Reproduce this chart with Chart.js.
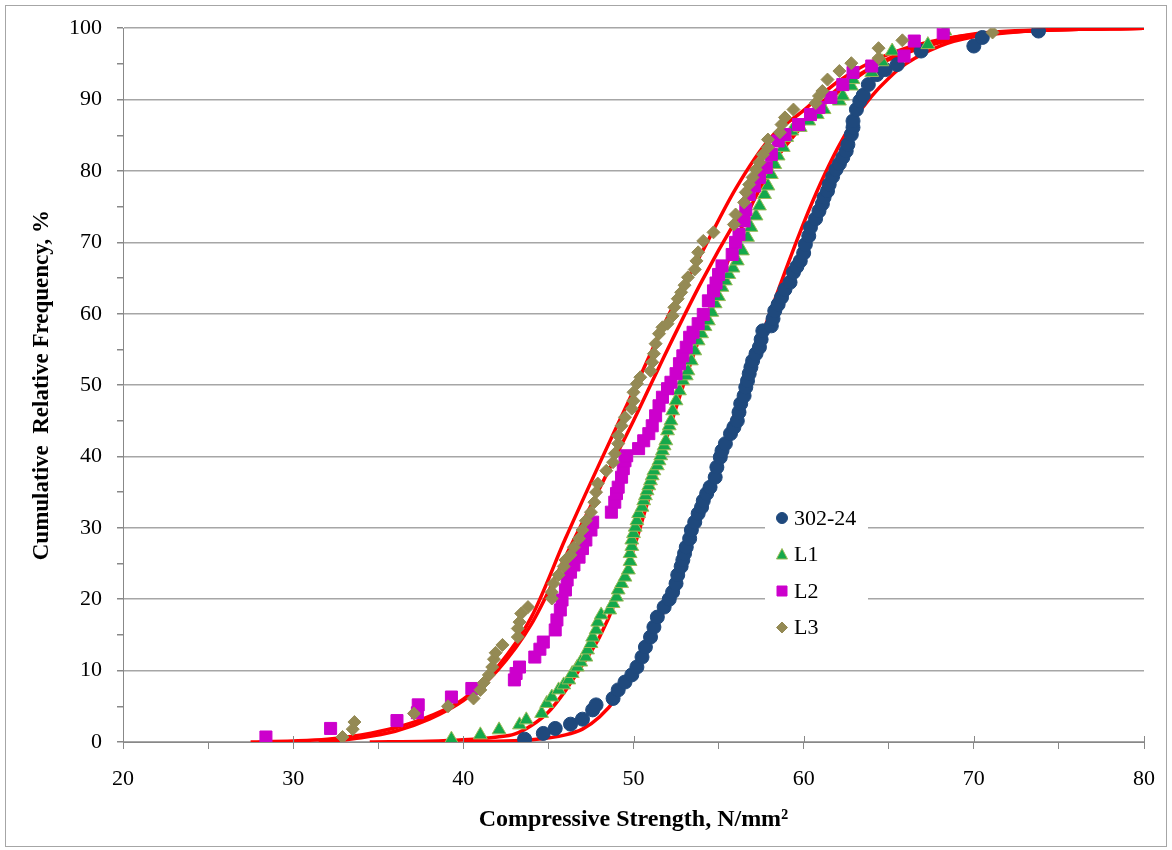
<!DOCTYPE html>
<html>
<head>
<meta charset="utf-8">
<script src="https://cdn.jsdelivr.net/npm/chart.js@4/dist/chart.umd.min.js"></script>
<style>
  body { margin: 0; background: #fff; }
  #wrap { position: relative; width: 1172px; height: 850px; }
  #frame { position: absolute; left: 5px; top: 5px; width: 1160px; height: 840px; border: 1px solid #a6a6a6; pointer-events: none; }
</style>
</head>
<body>
<div id="wrap">
  <canvas id="myChart" width="1172" height="850"></canvas>
  <div id="frame"></div>
</div>
<script>
// measured points (strength N/mm2, cumulative %)
var s302X = [43.6,44.7,45.4,46.3,47.0,47.6,47.8,48.8,49.1,49.5,49.9,50.2,50.5,50.7,51.0,51.2,51.4,51.8,52.1,52.3,52.5,52.6,52.8,52.9,53.0,53.1,53.3,53.4,53.6,53.8,54.0,54.1,54.3,54.5,54.8,54.9,55.1,55.2,55.4,55.7,55.9,56.1,56.2,56.3,56.5,56.6,56.7,56.8,56.9,57.0,57.2,57.4,57.5,57.6,58.1,58.2,58.3,58.5,58.7,58.9,59.2,59.4,59.6,59.8,60.0,60.1,60.3,60.4,60.7,60.9,61.1,61.2,61.4,61.5,61.7,61.9,62.1,62.3,62.5,62.6,62.8,62.9,62.9,63.1,63.3,63.5,63.8,64.3,64.8,65.5,66.9,70.0,70.5,73.8];
var s302Y = [0.4,1.2,1.9,2.5,3.2,4.5,5.2,6.1,7.3,8.4,9.4,10.5,11.9,13.3,14.7,16.1,17.5,18.9,20.0,21.0,22.2,23.4,24.6,25.5,26.4,27.3,28.5,29.7,30.8,32.0,32.9,33.8,34.8,35.7,37.1,38.5,39.9,40.8,41.8,43.2,44.1,45.0,46.2,47.4,48.5,49.7,50.6,51.6,52.5,53.4,54.4,55.3,56.4,57.6,58.3,59.3,60.4,61.3,62.3,63.4,64.4,65.8,66.6,67.4,68.5,69.7,70.9,72.1,73.3,74.4,75.4,76.3,77.2,78.1,79.2,80.2,81.0,81.9,82.8,83.7,85.1,86.1,87.0,88.6,89.8,90.6,92.1,93.5,94.2,94.9,96.8,97.5,98.7,99.6];

var l1X = [39.3,41.0,42.1,43.3,43.7,44.6,44.9,45.2,45.6,45.9,46.2,46.4,46.7,46.9,47.2,47.3,47.5,47.6,47.8,47.9,48.1,48.6,48.8,49.0,49.1,49.3,49.5,49.7,49.8,49.8,49.9,49.9,50.0,50.1,50.2,50.3,50.5,50.6,50.7,50.8,50.9,51.0,51.1,51.2,51.4,51.5,51.6,51.7,51.8,51.9,52.0,52.1,52.2,52.3,52.5,52.7,52.9,53.1,53.2,53.4,53.6,53.8,54.0,54.2,54.4,54.6,54.8,55.0,55.2,55.4,55.6,55.85,56.1,56.4,56.7,56.9,57.2,57.4,57.7,57.9,58.1,58.3,58.5,58.8,59.0,59.3,59.8,60.3,60.8,61.2,62.1,62.3,62.8,62.9,64.0,64.6,65.2,67.3,68.3];
var l1Y = [0.4,1.0,1.7,2.4,3.1,4.0,5.4,6.3,7.3,8.0,8.7,9.6,10.5,11.2,11.9,12.9,13.8,14.7,15.7,16.8,17.8,18.5,19.4,20.3,21.3,22.2,23.1,24.1,25.3,26.4,27.4,28.3,29.2,30.1,31.0,32.0,32.9,33.8,34.5,35.2,35.9,36.6,37.3,38.0,38.7,39.4,40.1,40.8,41.5,42.2,43.6,44.3,45.0,46.4,47.8,49.2,50.6,51.3,52.0,53.4,54.8,56.2,57.2,58.2,59.0,60.2,61.4,62.4,63.7,64.6,65.5,66.4,67.4,68.8,70.7,72.1,73.7,75.1,76.7,77.9,79.5,80.9,82.1,83.3,84.7,85.6,86.1,87.0,87.9,88.6,89.8,90.5,91.9,92.8,93.8,95.3,96.8,97.7,99.6];

var l2X = [28.4,32.2,36.1,37.3,37.35,39.3,40.5,43.0,43.1,43.3,44.2,44.5,44.7,45.4,45.5,45.7,45.8,46.0,46.1,46.3,46.5,46.8,47.0,47.2,47.5,47.6,48.7,48.9,49.0,49.1,49.3,49.4,49.5,49.6,50.3,50.6,50.9,51.1,51.3,51.5,51.7,52.0,52.2,52.5,52.7,52.9,53.1,53.3,53.5,53.8,54.1,54.4,54.7,54.85,55.0,55.2,55.8,56.0,56.2,56.5,56.6,56.8,57.1,57.4,57.8,58.1,58.5,58.9,59.7,60.4,60.9,61.6,62.3,62.9,64.0,65.9,66.5,68.2];
var l2Y = [0.7,1.9,3.0,4.1,5.2,6.3,7.5,8.7,9.6,10.5,11.9,13.0,14.0,15.7,17.1,18.5,19.9,21.3,22.7,23.8,24.8,25.9,27.1,28.3,29.7,30.8,32.2,33.6,34.8,35.7,37.1,38.3,39.4,40.1,41.1,42.2,43.2,44.3,45.7,47.1,48.3,49.5,50.4,51.6,53.0,54.1,55.3,56.7,57.4,58.6,59.9,61.8,63.2,64.3,65.5,66.7,68.3,70.0,71.1,73.0,74.6,76.7,77.9,79.1,80.5,82.3,84.2,85.1,86.5,87.9,88.9,90.3,92.1,93.8,94.7,96.1,98.2,99.3];

var l3X = [32.9,33.5,33.6,37.1,39.1,40.6,41.0,41.2,41.5,41.7,41.8,41.9,42.3,43.2,43.2,43.3,43.4,43.8,45.2,45.2,45.3,45.6,45.9,46.0,46.3,46.5,46.8,47.0,47.2,47.5,47.7,47.8,47.9,48.4,48.8,48.9,49.1,49.1,49.3,49.5,49.9,50.0,50.0,50.2,50.4,51.0,51.1,51.2,51.3,51.5,51.7,52.0,52.3,52.4,52.6,52.8,53.0,53.2,53.6,53.7,53.8,54.1,54.7,55.9,56.0,56.5,56.6,56.8,57.0,57.2,57.4,57.6,57.9,57.9,58.6,58.7,58.9,59.4,60.7,60.9,61.1,61.4,62.1,62.8,64.4,64.4,65.8,71.1];
var l3Y = [0.7,1.8,2.8,4.0,5.0,6.1,7.3,8.3,9.4,10.5,11.6,12.5,13.6,14.7,15.9,16.8,18.0,18.9,20.1,21.0,22.2,23.4,24.6,25.5,26.2,27.3,28.5,29.7,31.0,32.2,33.6,35.0,36.2,38.0,39.2,40.4,41.8,42.9,44.3,45.5,46.7,47.8,49.0,50.2,51.1,52.0,53.2,54.4,55.8,57.2,58.1,58.6,59.7,60.9,62.1,63.0,64.0,65.1,66.2,67.4,68.6,70.2,71.4,72.5,73.9,75.6,77.0,78.1,79.1,80.2,81.2,82.3,83.3,84.4,85.4,86.5,87.5,88.6,89.5,90.5,91.2,92.8,94.0,95.1,95.8,97.2,98.3,99.4];

// fitted curves
var fit302X = [40,42,44,46,47,48,49,50,51,52,53,54,55,56,57,58,59,60,61,62,63,64,65,66,68,70,74,80];
var fit302Y = [0,0.1,0.3,1.0,1.8,3.5,6.2,10.3,14.5,19.5,25.5,32.5,39.5,46.3,53.3,60,66.5,72.7,78.3,83.2,87.3,90.5,93,95,97.5,98.8,99.7,100];
var fitL1X = [34.5,38,40,42,43,44,45,46,47,48,49,50,51,52,53,54,55,56,57,58,59,60,62,64,66,68,70,74,80];
var fitL1Y = [0,0.1,0.3,0.7,1.1,2.3,4.2,7.2,10.8,14.7,20,27,35,43,50.5,57.5,64,70,75.5,80,84,87,91.5,94.5,96.5,98,99,99.7,100];
var fitL2X = [31.5,34,36,38,40,42,44,46,48,50,52,54,56,58,60,62,64,66,68,70,74,80];
var fitL2Y = [0,0.6,1.5,3.2,5.8,10,16.5,26,35.5,45,55,64.5,73,80.5,86.5,91,94.5,96.8,98.3,99.2,99.8,100];
var fitL3X = [27.5,30,32,34,36,38,40,42,44,46,48,50,52,54,56,58,60,62,64,66,68,70,74,80];
var fitL3Y = [0,0.15,0.4,1.0,2.0,3.6,6.0,10.5,17.5,28.5,39,49.2,59.5,68.5,77.5,84.5,88.5,92.5,95.3,97.2,98.4,99.1,99.7,100];

var xTicks = [20,30,40,50,60,70,80];
var yTicks = [0,10,20,30,40,50,60,70,80,90,100];

function pts(xs, ys) {
  return xs.map(function(x, i) { return {x: x, y: ys[i]}; });
}

var serif = '"Liberation Serif", "Times New Roman", serif';

function marks(label, xs, ys, style, fill, border, r, order) {
  return {
    label: label, data: pts(xs, ys), showLine: false,
    pointStyle: style, pointRadius: r, pointHoverRadius: r,
    backgroundColor: fill, borderColor: border, pointBorderWidth: 1,
    order: order
  };
}
function fit(xs, ys) {
  return {
    label: '', data: pts(xs, ys), showLine: true, pointRadius: 0,
    borderColor: '#ff0000', borderWidth: 3.5, cubicInterpolationMode: 'monotone',
    fill: false, order: 10
  };
}

var legendItems = [
  {text: '302-24', style: 'circle', fill: '#1f497d', border: '#1f497d'},
  {text: 'L1', style: 'triangle', fill: '#14a84b', border: '#9bbb59'},
  {text: 'L2', style: 'rect', fill: '#cc00cc', border: '#cc00cc'},
  {text: 'L3', style: 'rectRot', fill: '#948a54', border: '#948a54'}
];

var boxLegend = {
  id: 'boxLegend',
  afterDatasetsDraw: function(chart) {
    var c = chart.ctx;
    c.save();
    c.fillStyle = '#fff';
    c.fillRect(765, 503, 103, 140);
    c.font = '22px ' + serif;
    c.textBaseline = 'middle';
    legendItems.forEach(function(it, i) {
      var x = 782, y = 518 + i * 36.5;
      c.fillStyle = it.fill;
      c.strokeStyle = it.border;
      c.lineWidth = 1;
      c.beginPath();
      if (it.style === 'circle') c.arc(x, y, 5.5, 0, Math.PI * 2);
      else if (it.style === 'triangle') { c.moveTo(x, y - 6); c.lineTo(x + 5.5, y + 4.5); c.lineTo(x - 5.5, y + 4.5); c.closePath(); }
      else if (it.style === 'rect') c.rect(x - 5, y - 5, 10, 10);
      else { c.moveTo(x, y - 5.5); c.lineTo(x + 5.5, y); c.lineTo(x, y + 5.5); c.lineTo(x - 5.5, y); c.closePath(); }
      c.fill();
      c.stroke();
      c.fillStyle = '#000';
      c.fillText(it.text, 794, y + 1);
    });
    c.restore();
  }
};

// major x ticks cross the axis line
var crossTicks = {
  id: 'crossTicks',
  afterDraw: function(chart) {
    var c = chart.ctx, sx = chart.scales.x, yb = chart.chartArea.bottom;
    c.save();
    c.strokeStyle = '#888';
    c.lineWidth = 1;
    xTicks.forEach(function(v) {
      var px = Math.round(sx.getPixelForValue(v)) + 0.5;
      c.beginPath(); c.moveTo(px, yb - 6); c.lineTo(px, yb); c.stroke();
    });
    c.restore();
  }
};

var ctx = document.getElementById('myChart').getContext('2d');
var chart = new Chart(ctx, {
  type: 'scatter',
  data: {
    datasets: [
      marks('302-24', s302X, s302Y, 'circle', '#1f497d', '#1f497d', 7, 3),
      marks('L1', l1X, l1Y, 'triangle', '#14a84b', '#9bbb59', 8, 2),
      marks('L2', l2X, l2Y, 'rect', '#cc00cc', '#cc00cc', 8.5, 1),
      marks('L3', l3X, l3Y, 'rectRot', '#948a54', '#948a54', 6.5, 0),
      fit(fit302X, fit302Y),
      fit(fitL1X, fitL1Y),
      fit(fitL2X, fitL2Y),
      fit(fitL3X, fitL3Y)
    ]
  },
  options: {
    responsive: false,
    animation: false,
    layout: { padding: { top: 27, right: 26, left: 0, bottom: 0 } },
    plugins: { legend: { display: false }, tooltip: { enabled: false } },
    scales: {
      x: {
        type: 'linear', min: 20, max: 80,
        afterFit: function(s) { s.height = 108; },
        ticks: {
          stepSize: 5, autoSkip: false, maxRotation: 0, padding: 17,
          color: '#000', font: { family: serif, size: 22 },
          callback: function(v) { return xTicks.indexOf(v) >= 0 ? v : ''; }
        },
        grid: { drawOnChartArea: false, tickLength: 7, tickColor: '#888' },
        border: { color: '#888', width: 1 },
        title: {
          display: true, text: 'Compressive Strength, N/mm²', color: '#000',
          font: { family: serif, size: 24, weight: 'bold' }, padding: { bottom: 16 }
        }
      },
      y: {
        min: 0, max: 100,
        afterFit: function(s) { s.width = 123; },
        ticks: {
          stepSize: 5, autoSkip: false, padding: 15,
          color: '#000', font: { family: serif, size: 22 },
          callback: function(v) { return yTicks.indexOf(v) >= 0 ? v : ''; }
        },
        grid: {
          tickLength: 6, tickColor: '#888', lineWidth: 1.5,
          color: function(c) { return c.tick && yTicks.indexOf(c.tick.value) >= 0 ? '#a6a6a6' : 'transparent'; }
        },
        border: { color: '#888', width: 1 },
        title: {
          display: true, text: 'Cumulative  Relative Frequency, %', color: '#000',
          font: { family: serif, size: 23, weight: 'bold' }, padding: { top: 28 }
        }
      }
    }
  },
  plugins: [boxLegend, crossTicks]
});
</script>
</body>
</html>
